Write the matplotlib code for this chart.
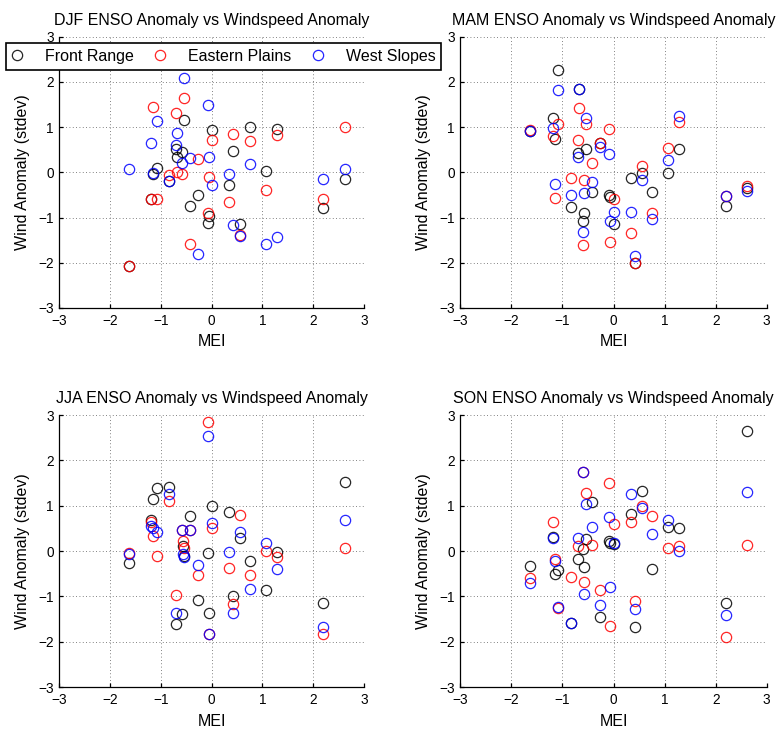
import numpy as np
import matplotlib.pyplot as plt

plt.rcParams['font.family'] = ['Liberation Sans', 'DejaVu Sans']
plt.rcParams['axes.unicode_minus'] = True

nan = np.nan

#
# Multivariate ENSO index for each year (shared by every season)
#
mei = [-1.63, -1.19, -1.15, -1.08, -0.83, -0.70, -0.68, -0.59, -0.57, -0.54, -0.42, -0.26,
       -0.08, -0.06, 0.01, 0.35, 0.43, 0.56, 0.75, 1.07, 1.29, 2.20, 2.62]

#
# Standardised windspeed anomalies per region, one list per season
#
djf_front   = [-2.07, -0.60, -0.04, 0.09, -0.19, 0.52, 0.33, 0.46, nan, 1.16, -0.75, -0.51,
               -1.12, -0.97, 0.93, -0.29, 0.47, -1.15, 1.01, 0.04, 0.96, -0.78, -0.14]
djf_plains  = [-2.07, -0.60, 1.45, -0.60, -0.05, 1.31, 0.00, -0.04, nan, 1.64, -1.58, 0.29,
               -0.89, -0.11, 0.71, -0.66, 0.84, -1.38, 0.70, -0.38, 0.82, -0.60, 1.00]
djf_slopes  = [0.07, 0.64, -0.02, 1.13, -0.19, 0.61, 0.86, 0.20, nan, 2.09, 0.31, -1.80,
               1.49, 0.33, -0.29, -0.04, -1.17, -1.41, 0.19, -1.58, -1.44, -0.15, 0.07]

mam_front   = [0.92, 1.21, 0.73, 2.27, -0.76, 0.43, 1.84, -1.07, -0.89, 0.51, -0.44, 0.65,
               -0.51, -0.55, -1.15, -0.12, -2.00, -0.01, -0.43, -0.02, 0.51, -0.75, -0.35]
mam_plains  = [0.93, 0.80, -0.57, 1.08, -0.12, 0.71, 1.43, -1.60, -0.18, 1.08, 0.21, 0.64,
               0.95, -1.55, -0.60, -1.35, -2.00, 0.13, -0.89, 0.53, 1.12, -0.53, -0.30]
mam_slopes  = [0.92, 0.99, -0.26, 1.82, -0.49, 0.35, 1.84, -1.33, -0.46, 1.21, -0.21, 0.57,
               0.40, -1.07, -0.88, -0.88, -1.86, -0.17, -1.04, 0.27, 1.24, -0.52, -0.42]

jja_front   = [-0.26, 0.68, 1.15, 1.39, 1.42, -1.62, nan, -1.39, 0.11, -0.10, 0.77, -1.07,
               -0.05, -1.37, 0.99, 0.86, -0.99, 0.28, -0.22, -0.86, -0.03, -1.15, 1.52]
jja_plains  = [-0.04, 0.65, 0.33, -0.11, 1.11, -0.96, nan, 0.46, 0.23, 0.07, 0.47, -0.52,
               2.85, -1.84, 0.50, -0.38, -1.18, 0.79, -0.54, 0.00, -0.13, -1.83, 0.07]
jja_slopes  = [-0.07, 0.55, 0.50, 0.43, 1.26, -1.36, nan, 0.46, -0.07, -0.14, 0.47, -0.31,
               2.54, -1.84, 0.62, -0.03, -1.36, 0.41, -0.84, 0.17, -0.39, -1.67, 0.68]

son_front   = [-0.32, 0.30, -0.51, -0.42, -1.59, -0.18, nan, 0.04, -0.35, 0.26, 1.08, -1.46,
               0.21, 0.18, 0.15, 0.81, -1.68, 1.33, -0.40, 0.52, 0.50, -1.15, 2.65]
son_plains  = [-0.60, 0.65, -0.18, -1.26, -0.57, 0.11, nan, 1.75, -0.68, 1.27, 0.13, -0.85,
               1.51, -1.66, 0.60, 0.64, -1.11, 1.00, 0.77, 0.06, 0.11, -1.90, 0.13]
son_slopes  = [-0.71, 0.28, -0.21, -1.24, -1.59, 0.28, nan, 1.75, -0.95, 1.03, 0.52, -1.19,
               0.76, -0.80, 0.17, 1.26, -1.27, 0.95, 0.38, 0.68, 0.00, -1.42, 1.30]

seasons  = ['DJF', 'MAM', 'JJA', 'SON']
front    = [djf_front, mam_front, jja_front, son_front]
plains   = [djf_plains, mam_plains, jja_plains, son_plains]
slopes   = [djf_slopes, mam_slopes, jja_slopes, son_slopes]
regions  = ['Front Range', 'Eastern Plains', 'West Slopes']
colours  = ['k', 'r', 'b']
ticks    = [-3, -2, -1, 0, 1, 2, 3]

#
# Axes rectangles (left, bottom, width, height) in figure fractions
#
rects = [[0.0764, 0.5781, 0.3927, 0.3716],
         [0.5932, 0.5781, 0.3948, 0.3716],
         [0.0764, 0.0589, 0.3927, 0.3726],
         [0.5932, 0.0589, 0.3948, 0.3726]]

fig = plt.figure(figsize=(7.76, 7.30), dpi=100)

for k in range(4):
    ax = fig.add_axes(rects[k])
    for ys, c, name in zip([front[k], plains[k], slopes[k]], colours, regions):
        ax.plot(mei, ys, 'o', mfc='none', mec=c, ms=7.4, mew=0.9, alpha=0.85, label=name)

    ax.set_xlim(-3, 3)
    ax.set_ylim(-3, 3)
    ax.set_xticks(ticks)
    ax.set_yticks(ticks)
    ax.grid(True, linestyle=(0, (1, 3)), color='0.35', lw=0.6)
    ax.spines['top'].set_visible(False)
    ax.spines['right'].set_visible(False)
    for s in ['left', 'bottom']:
        ax.spines[s].set_linewidth(0.9)
    ax.tick_params(direction='in', length=3, width=0.9, labelsize=9.8, pad=4)

    ax.set_title('%s ENSO Anomaly vs Windspeed Anomaly' % seasons[k], fontsize=11.5, pad=8.5)
    ax.set_xlabel('MEI', fontsize=11.5, labelpad=5)
    ax.set_ylabel('Wind Anomaly (stdev)', fontsize=11.5, labelpad=6)

    if k == 0:
        handles, labels = ax.get_legend_handles_labels()

leg = fig.legend(handles, labels, ncol=3, loc='upper left',
                 bbox_to_anchor=(6 / 776, 1 - 43 / 730), bbox_transform=fig.transFigure,
                 borderaxespad=0, fontsize=11.5, fancybox=False, framealpha=1,
                 handlelength=0.6, handletextpad=1.45, columnspacing=1.35, borderpad=0.38)
leg.get_frame().set_edgecolor('k')
leg.get_frame().set_linewidth(1.2)

plt.savefig('out.png', dpi=100)
